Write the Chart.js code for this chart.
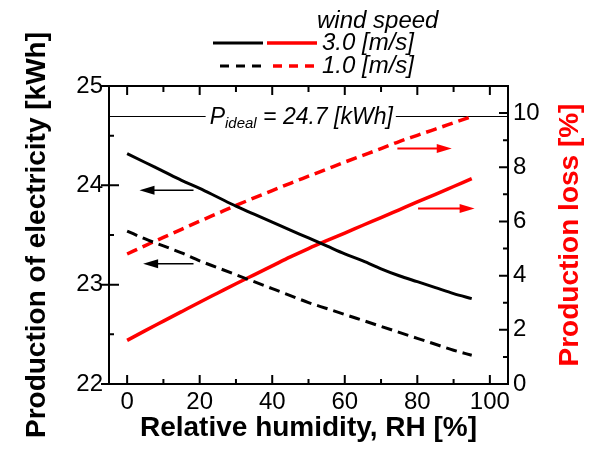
<!DOCTYPE html>
<html>
<head>
<meta charset="utf-8">
<script src="https://cdn.jsdelivr.net/npm/chart.js@4.4.1/dist/chart.umd.min.js"></script>
<style>
body { margin: 0; background: #fff; }
canvas { display: block; }
</style>
</head>
<body>
<canvas id="chart" width="591" height="451"></canvas>
<script>
// relative humidity [%]
const rh = [0, 5, 10, 15, 20, 25, 30, 35, 40, 45, 50, 55, 60, 65, 70, 75, 80, 85, 90, 95];
// production of electricity [kWh]
const power30 = [24.32, 24.23, 24.14, 24.05, 23.97, 23.88, 23.79, 23.71, 23.63, 23.55,
                 23.47, 23.39, 23.31, 23.24, 23.16, 23.09, 23.03, 22.97, 22.91, 22.86];
const power10 = [23.54, 23.46, 23.39, 23.32, 23.24, 23.17, 23.10, 23.03, 22.96, 22.89,
                 22.82, 22.76, 22.70, 22.64, 22.58, 22.52, 22.46, 22.40, 22.34, 22.29];
// production loss [%]
const loss30 = [1.61, 1.97, 2.32, 2.67, 3.02, 3.36, 3.70, 4.03, 4.36, 4.69,
                5.00, 5.29, 5.57, 5.86, 6.14, 6.43, 6.72, 7.00, 7.29, 7.58];
const loss10 = [4.80, 5.11, 5.41, 5.71, 6.01, 6.30, 6.59, 6.87, 7.14, 7.41,
                7.67, 7.93, 8.19, 8.44, 8.69, 8.95, 9.18, 9.41, 9.64, 9.87];
const windSpeeds = ['3.0 [m/s]', '1.0 [m/s]'];
const pIdeal = 24.7;

const xMajor = [0, 20, 40, 60, 80, 100];
const xMinor = [10, 30, 50, 70, 90];
const yMajor = [22, 23, 24, 25];
const yMinor = [22.5, 23.5, 24.5];
const y1Major = [0, 2, 4, 6, 8, 10];
const y1Minor = [1, 3, 5, 7, 9];

// arrows pointing to the axis each curve belongs to: [axis, x from, x to, y]
const arrows = [
    ['y', 18.3, 3.4, 23.95],
    ['y', 18.3, 4.4, 23.21],
    ['y1', 74.5, 89.5, 8.69],
    ['y1', 80.2, 95.8, 6.48]
];

const FONT = "'Liberation Sans', Arial, sans-serif";
const RED = '#ff0000';
const DASH = [11, 6];

function pts(ys) {
    return rh.map((x, i) => ({x: x, y: ys[i]}));
}

function drawArrow(ctx, x1, y1, x2, y2, color, w) {
    const dir = Math.sign(x2 - x1);
    ctx.save();
    ctx.strokeStyle = color;
    ctx.fillStyle = color;
    ctx.lineWidth = w;
    ctx.beginPath();
    ctx.moveTo(x1, y1);
    ctx.lineTo(x2 - dir * 12, y2);
    ctx.stroke();
    ctx.beginPath();
    ctx.moveTo(x2, y2);
    ctx.lineTo(x2 - dir * 15, y2 - 4.5);
    ctx.lineTo(x2 - dir * 15, y2 + 4.5);
    ctx.closePath();
    ctx.fill();
    ctx.restore();
}

const decorations = {
    id: 'decorations',
    beforeDatasetsDraw(chart) {
        const ctx = chart.ctx;
        const {left, right} = chart.chartArea;
        const y = Math.round(chart.scales.y.getPixelForValue(pIdeal)) + 0.5;
        // P ideal text with a gap in the line
        ctx.save();
        ctx.fillStyle = '#000';
        ctx.textBaseline = 'alphabetic';
        const big = 'italic 23px ' + FONT, small = 'italic 15px ' + FONT;
        const rest = ' = 24.7 [kWh]';
        ctx.font = big;
        const wP = ctx.measureText('P').width, wR = ctx.measureText(rest).width;
        ctx.font = small;
        const wS = ctx.measureText('ideal').width;
        const total = wP + wS + wR;
        const cx = chart.scales.x.getPixelForValue(48);
        let tx = cx - total / 2;
        ctx.strokeStyle = '#000';
        ctx.lineWidth = 1;
        ctx.beginPath();
        ctx.moveTo(left, y); ctx.lineTo(tx - 4, y);
        ctx.moveTo(tx + total + 3, y); ctx.lineTo(right, y);
        ctx.stroke();
        ctx.font = big;
        ctx.fillText('P', tx, y + 7.5);
        tx += wP;
        ctx.font = small;
        ctx.fillText('ideal', tx, y + 11.5);
        tx += wS;
        ctx.font = big;
        ctx.fillText(rest, tx, y + 7.5);
        ctx.restore();
    },
    afterDraw(chart) {
        const ctx = chart.ctx;
        const {left, right, top, bottom} = chart.chartArea;
        const sx = chart.scales.x, sy = chart.scales.y, sy1 = chart.scales.y1;
        ctx.save();
        ctx.strokeStyle = '#000';
        ctx.lineWidth = 2;
        ctx.strokeRect(left, top, right - left, bottom - top);
        ctx.beginPath();
        xMajor.forEach(v => {
            const p = sx.getPixelForValue(v);
            ctx.moveTo(p, bottom); ctx.lineTo(p, bottom - 9);
            ctx.moveTo(p, top); ctx.lineTo(p, top + 9);
        });
        xMinor.forEach(v => {
            const p = sx.getPixelForValue(v);
            ctx.moveTo(p, bottom); ctx.lineTo(p, bottom - 5);
            ctx.moveTo(p, top); ctx.lineTo(p, top + 6);
        });
        yMajor.forEach(v => {
            const p = sy.getPixelForValue(v);
            ctx.moveTo(left - 8, p); ctx.lineTo(left + 10, p);
        });
        yMinor.forEach(v => {
            const p = sy.getPixelForValue(v);
            ctx.moveTo(left, p); ctx.lineTo(left + 5, p);
        });
        y1Major.forEach(v => {
            const p = sy1.getPixelForValue(v);
            ctx.moveTo(right, p); ctx.lineTo(right - 9, p);
        });
        y1Minor.forEach(v => {
            const p = sy1.getPixelForValue(v);
            ctx.moveTo(right, p); ctx.lineTo(right - 5, p);
        });
        ctx.stroke();
        ctx.restore();

        // right axis title, reading bottom to top like the left one
        ctx.save();
        ctx.translate(570, (top + bottom) / 2);
        ctx.rotate(-Math.PI / 2);
        ctx.font = 'bold 28px ' + FONT;
        ctx.fillStyle = RED;
        ctx.textAlign = 'center';
        ctx.textBaseline = 'middle';
        ctx.fillText(sy1.options.title.text, 0, 0);
        ctx.restore();

        // arrows
        arrows.forEach(a => {
            const scale = a[0] === 'y' ? sy : sy1;
            const yy = scale.getPixelForValue(a[3]);
            drawArrow(ctx, sx.getPixelForValue(a[1]), yy, sx.getPixelForValue(a[2]), yy,
                a[0] === 'y' ? '#000' : RED, a[0] === 'y' ? 1.5 : 2);
        });

        // legend
        ctx.save();
        ctx.font = 'italic 24px ' + FONT;
        ctx.fillStyle = '#000';
        ctx.textBaseline = 'middle';
        ctx.fillText('wind speed', 317, 21);
        [43, 66].forEach((ly, i) => {
            ctx.setLineDash(i === 0 ? [] : [9, 7]);
            ctx.lineWidth = 3;
            ctx.strokeStyle = '#000';
            ctx.beginPath(); ctx.moveTo(i === 0 ? 213 : 220, ly); ctx.lineTo(263, ly); ctx.stroke();
            ctx.lineWidth = 3.5;
            ctx.strokeStyle = RED;
            ctx.beginPath(); ctx.moveTo(i === 0 ? 267 : 273, ly); ctx.lineTo(317, ly); ctx.stroke();
            ctx.setLineDash([]);
            ctx.fillText(windSpeeds[i], 322, ly);
        });
        ctx.restore();
    }
};

new Chart(document.getElementById('chart'), {
    type: 'line',
    data: {
        datasets: [
            {label: 'power ' + windSpeeds[0], data: pts(power30), yAxisID: 'y',
             borderColor: '#000', borderWidth: 3},
            {label: 'power ' + windSpeeds[1], data: pts(power10), yAxisID: 'y',
             borderColor: '#000', borderWidth: 3, borderDash: DASH},
            {label: 'loss ' + windSpeeds[0], data: pts(loss30), yAxisID: 'y1',
             borderColor: RED, borderWidth: 3.5},
            {label: 'loss ' + windSpeeds[1], data: pts(loss10), yAxisID: 'y1',
             borderColor: RED, borderWidth: 3.5, borderDash: DASH}
        ]
    },
    options: {
        responsive: false,
        animation: false,
        devicePixelRatio: 1,
        layout: {padding: {top: 86}},
        elements: {point: {radius: 0}, line: {cubicInterpolationMode: 'monotone', fill: false}},
        plugins: {legend: {display: false}, tooltip: {enabled: false}},
        scales: {
            x: {
                type: 'linear', min: -5, max: 105,
                ticks: {stepSize: 20, includeBounds: false, autoSkip: false, maxRotation: 0,
                        padding: 4, color: '#000', font: {size: 24, family: FONT}},
                grid: {display: false, drawTicks: false},
                border: {display: false},
                title: {display: true, text: 'Relative humidity, RH [%]', color: '#000',
                        font: {size: 28, weight: 'bold', family: FONT, lineHeight: 1.2},
                        padding: {top: 0, bottom: 6}},
                afterFit: s => { s.height = 67; }
            },
            y: {
                type: 'linear', position: 'left', min: 22, max: 25,
                ticks: {stepSize: 1, includeBounds: false, padding: 6, color: '#000',
                        font: {size: 24, family: FONT}},
                grid: {display: false, drawTicks: false},
                border: {display: false},
                title: {display: true, text: 'Production of electricity [kWh]', color: '#000',
                        font: {size: 28, weight: 'bold', family: FONT, lineHeight: 1.2},
                        padding: {top: 20, bottom: 0}},
                afterFit: s => { s.width = 109; }
            },
            y1: {
                type: 'linear', position: 'right', min: 0, max: 11,
                ticks: {stepSize: 2, includeBounds: false, padding: 5, color: '#000',
                        font: {size: 24, family: FONT}},
                grid: {display: false, drawTicks: false},
                border: {display: false},
                // drawn by the plugin so it reads bottom to top
                title: {display: false, text: 'Production loss [%]'},
                afterFit: s => { s.width = 83; }
            }
        }
    },
    plugins: [decorations]
});
</script>
</body>
</html>
